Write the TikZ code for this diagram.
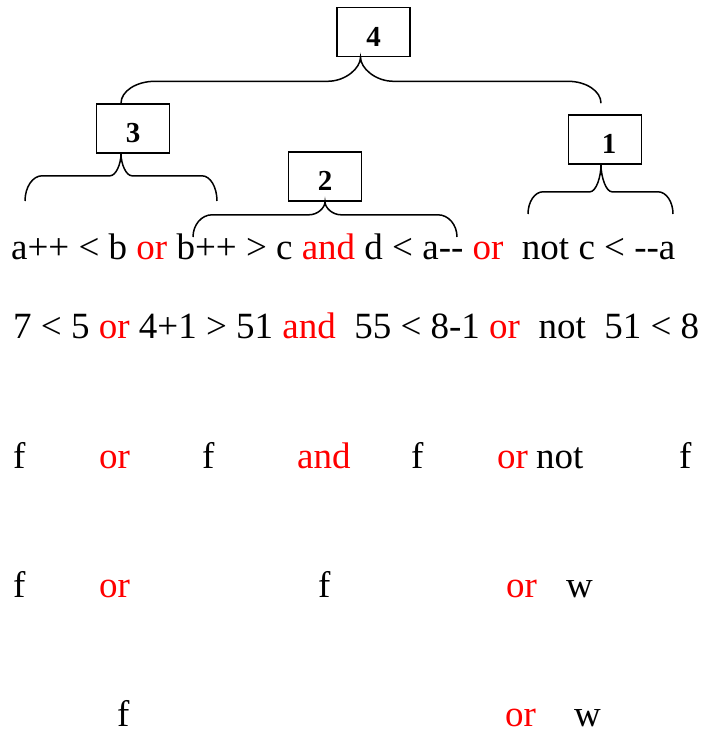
\documentclass[tikz,border=0pt]{standalone}
\usepackage{fontspec}
\setmainfont{Liberation Serif}
\usetikzlibrary{calc}
\tikzset{
  numbox/.style={draw, line width=1.6pt, minimum width=73pt, minimum height=49pt, inner sep=0pt,
    text height=29pt, text depth=0pt, font=\fontsize{29}{31}\selectfont\bfseries},
  bracestyle/.style={line width=1.5pt},
  txt/.style={inner sep=0pt, anchor=base west, font=\fontsize{37}{40}\selectfont},
  op/.style={txt, text=red}
}
\newcommand{\curly}[7]{%
\draw[bracestyle] let \p1=(#1), \p2=(#2), \p3=(#3), \n1={\y1-#4} in
 (\p2) .. controls (\x2,{\y2+0.55*(\n1-\y2)}) and ({\x2+0.45*#5},\n1) .. ({\x2+#5},\n1)
 -- ({\x1-#6},\n1) .. controls ({\x1-0.45*#6},\n1) and (\x1,{\n1+0.55*(\y1-\n1)}) .. (\p1)
 .. controls (\x1,{\n1+0.55*(\y1-\n1)}) and ({\x1+0.45*#6},\n1) .. ({\x1+#6},\n1)
 -- ({\x3-#7},\n1) .. controls ({\x3-0.45*#7},\n1) and (\x3,{\y3+0.55*(\n1-\y3)}) .. (\p3);}
\begin{document}
\begin{tikzpicture}[x=1pt,y=-1pt]
\useasboundingbox (0,0) rectangle (707,735);
% boxes
\node[numbox] (b4) at (373.5,32) {4};
\node[numbox] (b3) at (133,128.5) {3};
\node[numbox] (b2) at (325,176.5) {2};
\node[numbox] (b1) at (605,139.5) {\hspace{8pt}1};
% brace end points
\coordinate (a4) at ([xshift=-13pt]b4.south);
\coordinate (e4l) at ([xshift=-12pt]b3.north);
\coordinate (e4r) at ([xshift=-4pt,yshift=11pt]b1.north);
\coordinate (a3) at ([xshift=-12pt]b3.south);
\coordinate (e3l) at (25,201);
\coordinate (e3r) at (217,201);
\coordinate (a2) at (b2.south);
\coordinate (e2l) at (193,237);
\coordinate (e2r) at (457,237);
\coordinate (a1) at ([xshift=-4pt]b1.south);
\coordinate (e1l) at (528,214);
\coordinate (e1r) at (673,214);
% braces
\curly{a4}{e4l}{e4r}{24pt}{34pt}{33pt}{33pt}
\curly{a3}{e3l}{e3r}{22pt}{17pt}{11pt}{15pt}
\curly{a2}{e2l}{e2r}{13pt}{19pt}{16pt}{19pt}
\curly{a1}{e1l}{e1r}{27pt}{15pt}{11pt}{15pt}
% row 1 and 2
\node[txt] (r1) at (11,259) {a++ < b \textcolor{red}{or} b++ > c \textcolor{red}{and} d < a-{}- \textcolor{red}{or}\ \ not c < -{}-a};
\node[txt] (r2) at (13,338) {7 < 5 \textcolor{red}{or} 4+1 > 51 \textcolor{red}{and}\ \ 55 < 8-1 \textcolor{red}{or}\ \ not\ \ 51 < 8};
% row 3
\node[txt] (r3a) at (13,468) {f};
\node[op]  (r3b) at (99,468) {or};
\node[txt] (r3c) at (202,468) {f};
\node[op]  (r3d) at (297,468) {and};
\node[txt] (r3e) at (411,468) {f};
\node[op]  (r3f) at (497,468) {or};
\node[txt] (r3g) at (536,468) {not};
\node[txt] (r3h) at (679,468) {f};
% row 4
\node[txt] (r4a) at (13,597) {f};
\node[op]  (r4b) at (99,597) {or};
\node[txt] (r4c) at (318,597) {f};
\node[op]  (r4d) at (506,597) {or};
\node[txt] (r4e) at (566,597) {w};
% row 5
\node[txt] (r5a) at (117,726) {f};
\node[op]  (r5b) at (505,726) {or};
\node[txt] (r5c) at (574,726) {w};
\end{tikzpicture}
\end{document}
